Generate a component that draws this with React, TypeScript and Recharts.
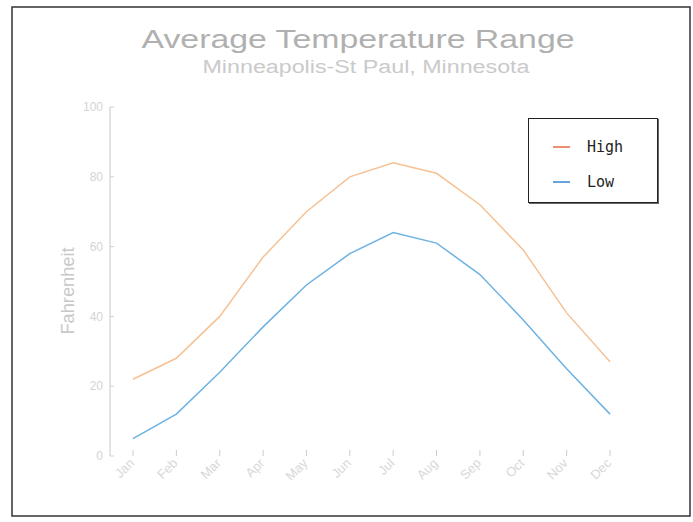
import { LineChart, Line, XAxis, YAxis, Legend } from "recharts";

const months = ["Jan", "Feb", "Mar", "Apr", "May", "Jun", "Jul", "Aug", "Sep", "Oct", "Nov", "Dec"];
const highTemps = [22, 28, 40, 57, 70, 80, 84, 81, 72, 59, 41, 27];
const lowTemps = [5, 12, 24, 37, 49, 58, 64, 61, 52, 39, 25, 12];
const yTicks = [0, 20, 40, 60, 80, 100];

const data = months.map((m, i) => ({ month: m, High: highTemps[i], Low: lowTemps[i] }));

const MonthTick = (props) => {
    const { x, y, payload } = props;
    return (
        <text
            x={x + 2}
            y={y + 12}
            transform={`rotate(-45, ${x + 2}, ${y + 12})`}
            textAnchor="end"
            fontSize={13}
            fontFamily="Liberation Sans, Arial, sans-serif"
            fill="#d8d8d8"
        >
            {payload.value}
        </text>
    );
};

const LegendBox = ({ payload }) => (
    <div
        style={{
            width: 130,
            height: 85,
            border: "1px solid #222",
            boxShadow: "1px 1px 0 #666",
            background: "#fff",
            boxSizing: "border-box",
            paddingTop: 10,
        }}
    >
        {(payload || []).map((item) => (
            <div
                key={item.value}
                style={{
                    display: "flex",
                    alignItems: "center",
                    height: 35,
                    fontFamily: "DejaVu Sans Mono, monospace",
                    fontSize: 15,
                    color: "#222",
                }}
            >
                <span
                    style={{
                        display: "inline-block",
                        width: 17,
                        height: 2,
                        marginLeft: 24,
                        marginRight: 17,
                        background: item.value === "High" ? "#ec8f78" : "#6aa3d8",
                    }}
                />
                {item.value}
            </div>
        ))}
    </div>
);

export default function App() {
    return (
        <div style={{ position: "absolute", left: 0, top: 0, width: 693, height: 522, background: "#fff" }}>
            <LineChart
                width={693}
                height={522}
                data={data}
                margin={{ top: 107, right: 60, bottom: 0, left: 0 }}
            >
                <XAxis
                    dataKey="month"
                    axisLine={false}
                    tickLine={{ stroke: "#cccccc" }}
                    tickSize={-6}
                    height={66}
                    interval={0}
                    padding={{ left: 23, right: 23 }}
                    tick={<MonthTick />}
                />
                <YAxis
                    type="number"
                    domain={[0, 100]}
                    ticks={yTicks}
                    width={110}
                    axisLine={{ stroke: "#c8c8c8" }}
                    tickLine={{ stroke: "#d0d0d0" }}
                    tickSize={-4}
                    tickMargin={11}
                    tick={{ fill: "#d4d4d4", fontSize: 12, fontFamily: "Liberation Sans, Arial, sans-serif" }}
                />
                <Legend
                    layout="horizontal"
                    verticalAlign="middle"
                    align="center"
                    content={<LegendBox />}
                    wrapperStyle={{ position: "absolute", left: 528, top: 118, width: 132, height: 87 }}
                />
                <Line
                    type="linear"
                    dataKey="High"
                    stroke="#f6c193"
                    strokeWidth={1.5}
                    dot={false}
                    isAnimationActive={false}
                />
                <Line
                    type="linear"
                    dataKey="Low"
                    stroke="#6db2e2"
                    strokeWidth={1.5}
                    dot={false}
                    isAnimationActive={false}
                />
            </LineChart>
            <svg
                width={693}
                height={522}
                style={{ position: "absolute", left: 0, top: 0, pointerEvents: "none" }}
            >
                <rect x={12} y={7} width={678} height={509} fill="none" stroke="#333" strokeWidth={1.5} />
                <text
                    x={358}
                    y={48}
                    textAnchor="middle"
                    fontSize={26}
                    fontFamily="Liberation Sans, Arial, sans-serif"
                    fill="#b0b0b0"
                    textLength={433}
                    lengthAdjust="spacingAndGlyphs"
                >
                    Average Temperature Range
                </text>
                <text
                    x={366}
                    y={73}
                    textAnchor="middle"
                    fontSize={18}
                    fontFamily="Liberation Sans, Arial, sans-serif"
                    fill="#cacaca"
                    textLength={327}
                    lengthAdjust="spacingAndGlyphs"
                >
                    Minneapolis-St Paul, Minnesota
                </text>
                <text
                    x={74}
                    y={291}
                    transform="rotate(-90, 74, 291)"
                    textAnchor="middle"
                    fontSize={19}
                    fontFamily="Liberation Sans, Arial, sans-serif"
                    fill="#c8c8c8"
                    textLength={87}
                    lengthAdjust="spacingAndGlyphs"
                >
                    Fahrenheit
                </text>
            </svg>
        </div>
    );
}
